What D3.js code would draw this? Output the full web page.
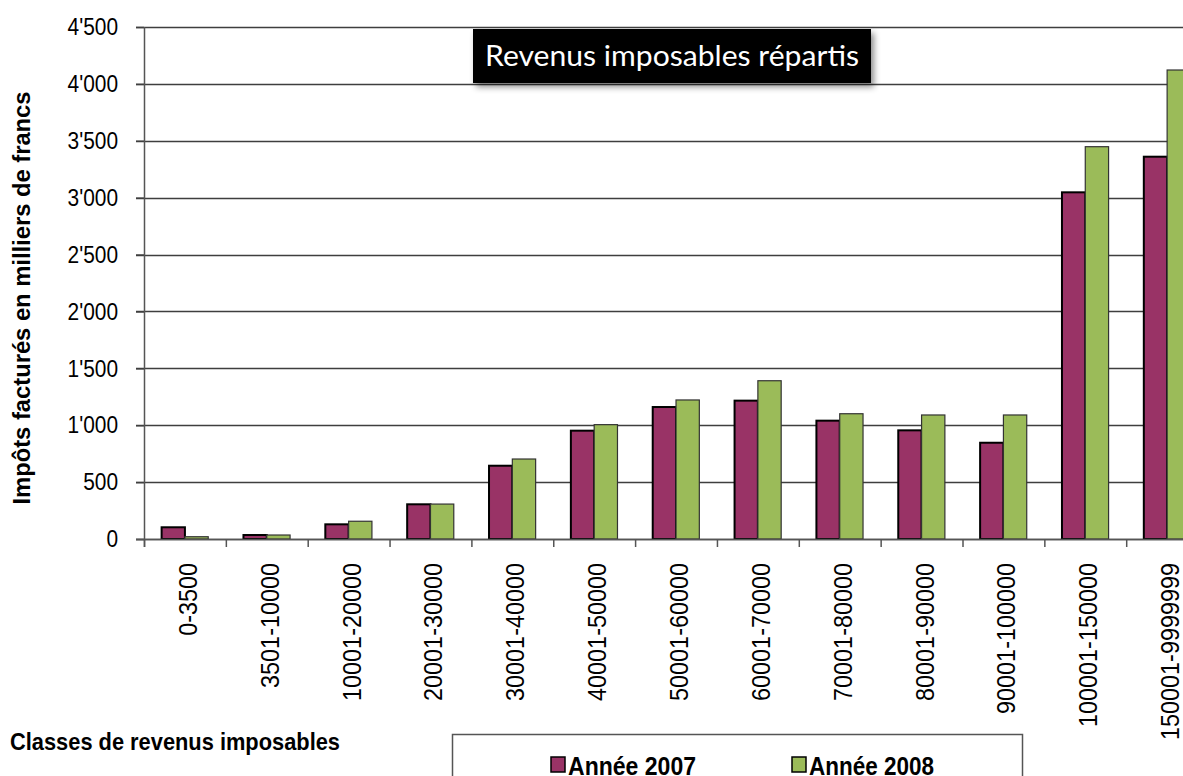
<!DOCTYPE html>
<html lang="fr">
<head>
<meta charset="utf-8">
<script src="https://cdn.jsdelivr.net/npm/d3@7"></script>
<style>
  html, body { margin: 0; padding: 0; background: #fff; overflow: hidden; }
  svg { display: block; }
</style>
</head>
<body>
<svg id="chart" width="1183" height="776"></svg>
<script>
// Classes de revenus imposables (francs)
const categories = [
  "0-3500", "3501-10000", "10001-20000", "20001-30000", "30001-40000",
  "40001-50000", "50001-60000", "60001-70000", "70001-80000", "80001-90000",
  "90001-100000", "100001-150000", "150001-9999999"
];
// Impôts facturés, en milliers de francs
const values2007 = [103, 35, 129, 305, 644, 952, 1160, 1216, 1040, 955, 846, 3047, 3360];
const values2008 = [20, 35, 156, 307, 703, 1005, 1222, 1391, 1101, 1090, 1090, 3448, 4122];
const seriesNames = ["Année 2007", "Année 2008"];
const yTicks = [0, 500, 1000, 1500, 2000, 2500, 3000, 3500, 4000, 4500];

const colors = { "Année 2007": "#993366", "Année 2008": "#9bbb59" };
const strokes = { "Année 2007": "#000000", "Année 2008": "#333333" };
const strokeW = { "Année 2007": 2, "Année 2008": 1.2 };

const svg = d3.select("#chart");
const plotLeft = 144, plotTop = 27, plotBottom = 539;
const step = 81.85;
const plotRight = plotLeft + step * categories.length;

const x = d3.scaleBand().domain(categories).range([plotLeft, plotRight]).paddingInner(0).paddingOuter(0);
const xs = d3.scaleBand().domain(seriesNames).range([0, x.bandwidth()]).paddingInner(0).paddingOuter(0.756);
const y = d3.scaleLinear().domain([0, 4500]).range([plotBottom, plotTop]);

const rows = categories.map((c, i) => ({ cat: c, vals: [values2007[i], values2008[i]] }));

// Compress text along its direction by a width factor
function squeeze(sel, factor) {
  sel.each(function () {
    const w = this.getComputedTextLength();
    d3.select(this).attr("textLength", w * factor).attr("lengthAdjust", "spacingAndGlyphs");
  });
}

// Horizontal gridlines
svg.append("g")
  .selectAll("line")
  .data(yTicks)
  .join("line")
  .attr("x1", plotLeft - 8)
  .attr("x2", 1200)
  .attr("y1", d => Math.round(y(d)) + 0.5)
  .attr("y2", d => Math.round(y(d)) + 0.5)
  .attr("stroke", "#3f3f3f")
  .attr("stroke-width", 1.5);

// Y axis with labels formatted using an apostrophe for thousands
const yAxis = d3.axisLeft(y)
  .tickValues(yTicks)
  .tickSize(8)
  .tickPadding(18)
  .tickFormat(d => d3.format(",")(d).replace(/,/g, "'"));

const gy = svg.append("g")
  .attr("transform", `translate(${plotLeft},0)`)
  .call(yAxis);
gy.select(".domain").remove();
gy.selectAll(".tick line").attr("stroke", "#3f3f3f").attr("stroke-width", 1.5);
gy.selectAll(".tick text")
  .attr("font-family", "'Liberation Sans', Arial, sans-serif")
  .attr("font-size", 24)
  .attr("fill", "#000")
  .call(squeeze, 0.87);

// Vertical axis line
svg.append("line")
  .attr("x1", plotLeft + 0.5).attr("x2", plotLeft + 0.5)
  .attr("y1", plotTop).attr("y2", plotBottom + 8)
  .attr("stroke", "#555").attr("stroke-width", 1.5);

// Bars
const groups = svg.append("g")
  .selectAll("g")
  .data(rows)
  .join("g")
  .attr("transform", d => `translate(${x(d.cat)},0)`);

groups.selectAll("rect")
  .data(d => d.vals.map((v, i) => ({ key: seriesNames[i], value: v })))
  .join("rect")
  .attr("x", d => xs(d.key))
  .attr("width", xs.bandwidth())
  .attr("y", d => y(d.value))
  .attr("height", d => y(0) - y(d.value))
  .attr("fill", d => colors[d.key])
  .attr("stroke", d => strokes[d.key])
  .attr("stroke-width", d => strokeW[d.key]);

// Baseline of the category axis
svg.append("line")
  .attr("x1", plotLeft - 8).attr("x2", 1200)
  .attr("y1", plotBottom + 0.5).attr("y2", plotBottom + 0.5)
  .attr("stroke", "#555").attr("stroke-width", 1.5);

// Category boundary ticks
svg.append("g")
  .selectAll("line")
  .data(categories)
  .join("line")
  .attr("x1", d => x(d) + 0.5).attr("x2", d => x(d) + 0.5)
  .attr("y1", plotBottom).attr("y2", plotBottom + 8)
  .attr("stroke", "#555").attr("stroke-width", 1.5);

// Category labels (rotated)
const gx = svg.append("g")
  .attr("transform", `translate(0,${plotBottom})`)
  .call(d3.axisBottom(x).tickSize(0));
gx.select(".domain").remove();
gx.selectAll(".tick text")
  .attr("transform", "rotate(-90)")
  .attr("text-anchor", "end")
  .attr("x", -24)
  .attr("y", 12)
  .attr("dy", null)
  .attr("font-family", "'Liberation Sans', Arial, sans-serif")
  .attr("font-size", 26)
  .attr("fill", "#000")
  .call(squeeze, 0.9);

// Y axis title
svg.append("text")
  .attr("transform", "translate(30,298) rotate(-90)")
  .attr("text-anchor", "middle")
  .attr("font-family", "'Liberation Sans', Arial, sans-serif")
  .attr("font-weight", "bold")
  .attr("font-size", 23)
  .attr("textLength", 413)
  .attr("lengthAdjust", "spacingAndGlyphs")
  .text("Impôts facturés en milliers de francs");

// X axis title
svg.append("text")
  .attr("x", 10)
  .attr("y", 750)
  .attr("font-family", "'Liberation Sans', Arial, sans-serif")
  .attr("font-weight", "bold")
  .attr("font-size", 24)
  .attr("textLength", 330)
  .attr("lengthAdjust", "spacingAndGlyphs")
  .text("Classes de revenus imposables");

// Chart title box with soft shadow
const defs = svg.append("defs");
const f = defs.append("filter").attr("id", "shadow").attr("x", "-10%").attr("y", "-20%").attr("width", "130%").attr("height", "160%");
f.append("feDropShadow").attr("dx", 3).attr("dy", 4).attr("stdDeviation", 3).attr("flood-color", "#000").attr("flood-opacity", 0.45);

svg.append("rect")
  .attr("x", 473).attr("y", 29)
  .attr("width", 398).attr("height", 54)
  .attr("fill", "#000")
  .attr("filter", "url(#shadow)");
svg.append("text")
  .attr("x", 672).attr("y", 66)
  .attr("text-anchor", "middle")
  .attr("font-family", "Lato, 'Open Sans', sans-serif")
  .attr("font-size", 28)
  .attr("fill", "#fff")
  .attr("textLength", 374)
  .attr("lengthAdjust", "spacingAndGlyphs")
  .text("Revenus imposables  répartis");

// Legend
const legend = svg.append("g");
legend.append("rect")
  .attr("x", 452.5).attr("y", 734.5)
  .attr("width", 570).attr("height", 60)
  .attr("fill", "#fff")
  .attr("stroke", "#555").attr("stroke-width", 1.5);

const legendX = { "Année 2007": 551, "Année 2008": 792 };
const legendW = { "Année 2007": 128, "Année 2008": 125 };
seriesNames.forEach(name => {
  legend.append("rect")
    .attr("x", legendX[name]).attr("y", 757)
    .attr("width", 14).attr("height", 15)
    .attr("fill", colors[name])
    .attr("stroke", "#000").attr("stroke-width", 1.5);
  legend.append("text")
    .attr("x", legendX[name] + 17).attr("y", 775)
    .attr("font-family", "'Liberation Sans', Arial, sans-serif")
    .attr("font-weight", "bold")
    .attr("font-size", 25)
    .attr("textLength", legendW[name])
    .attr("lengthAdjust", "spacingAndGlyphs")
    .text(name);
});
</script>
</body>
</html>
